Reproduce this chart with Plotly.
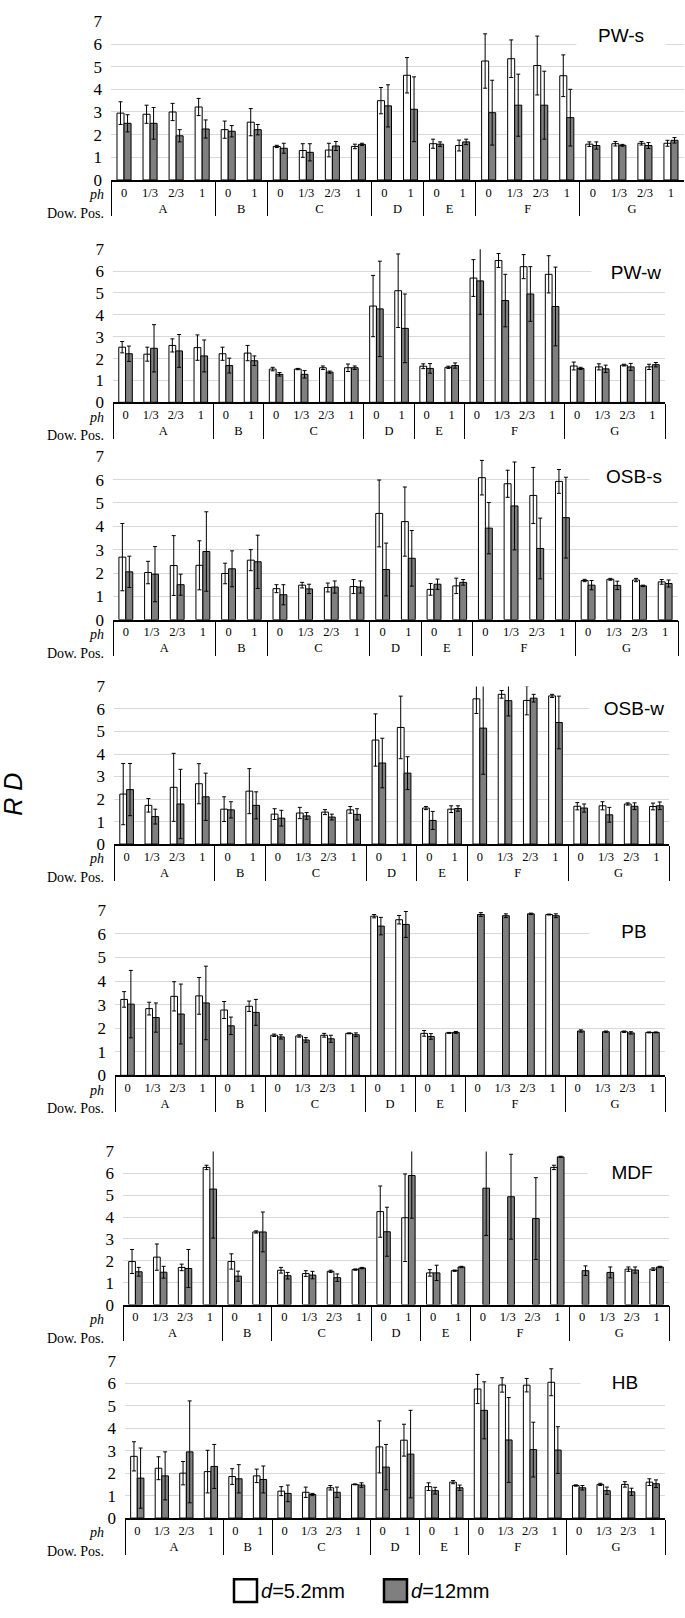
import plotly.graph_objects as go

# ---------------- data ----------------
dow_pos = ["A"] * 4 + ["B"] * 2 + ["C"] * 4 + ["D"] * 2 + ["E"] * 2 + ["F"] * 4 + ["G"] * 4
ph = ["0", "1/3", "2/3", "1", "0", "1", "0", "1/3", "2/3", "1", "0", "1", "0", "1",
      "0", "1/3", "2/3", "1", "0", "1/3", "2/3", "1"]

panel_names = ["PW-s", "PW-w", "OSB-s", "OSB-w", "PB", "MDF", "HB"]
series_names = ["d=5.2mm", "d=12mm"]

pws_52 = [2.95, 2.9, 3.0, 3.22, 2.22, 2.55, 1.48, 1.3, 1.32, 1.48, 3.5, 4.62, 1.6, 1.52, 5.25, 5.35, 5.05, 4.6, 1.58, 1.6, 1.62, 1.62]
pws_52_sd = [0.5, 0.4, 0.38, 0.38, 0.38, 0.6, 0.05, 0.3, 0.3, 0.1, 0.58, 0.78, 0.2, 0.24, 1.2, 0.83, 1.3, 0.92, 0.1, 0.1, 0.08, 0.13]
pws_12 = [2.5, 2.5, 1.95, 2.25, 2.15, 2.22, 1.4, 1.22, 1.5, 1.57, 3.27, 3.12, 1.58, 1.68, 2.97, 3.3, 3.3, 2.75, 1.52, 1.53, 1.52, 1.75]
pws_12_sd = [0.38, 0.7, 0.27, 0.4, 0.25, 0.23, 0.22, 0.38, 0.2, 0.05, 0.93, 1.43, 0.1, 0.12, 1.43, 1.37, 1.5, 1.25, 0.16, 0.04, 0.13, 0.12]

pww_52 = [2.52, 2.2, 2.6, 2.5, 2.22, 2.25, 1.52, 1.52, 1.58, 1.58, 4.4, 5.1, 1.65, 1.6, 5.68, 6.48, 6.2, 5.85, 1.66, 1.62, 1.7, 1.62]
pww_52_sd = [0.26, 0.32, 0.3, 0.58, 0.3, 0.35, 0.08, 0.03, 0.08, 0.17, 1.4, 1.68, 0.11, 0.05, 0.84, 0.32, 0.55, 0.85, 0.18, 0.14, 0.04, 0.12]
pww_12 = [2.22, 2.47, 2.35, 2.12, 1.68, 1.9, 1.28, 1.28, 1.38, 1.58, 4.27, 3.38, 1.55, 1.68, 5.55, 4.65, 4.95, 4.38, 1.55, 1.53, 1.62, 1.72]
pww_12_sd = [0.35, 1.08, 0.75, 0.73, 0.34, 0.22, 0.08, 0.17, 0.05, 0.08, 2.18, 1.57, 0.22, 0.12, 1.53, 1.2, 1.25, 1.8, 0.05, 0.17, 0.16, 0.1]

osbs_52 = [2.68, 2.02, 2.32, 2.33, 1.98, 2.55, 1.33, 1.48, 1.38, 1.42, 4.55, 4.2, 1.3, 1.45, 6.08, 5.82, 5.32, 5.92, 1.68, 1.73, 1.7, 1.62]
osbs_52_sd = [1.44, 0.48, 1.28, 1.05, 0.44, 0.45, 0.17, 0.12, 0.19, 0.3, 1.43, 1.48, 0.25, 0.33, 0.74, 0.58, 1.2, 0.51, 0.05, 0.04, 0.07, 0.1]
osbs_12 = [2.05, 1.95, 1.5, 2.92, 2.18, 2.48, 1.07, 1.32, 1.4, 1.4, 2.15, 2.63, 1.52, 1.6, 3.92, 4.87, 3.05, 4.37, 1.48, 1.47, 1.45, 1.55]
osbs_12_sd = [0.67, 1.18, 0.45, 1.7, 0.77, 1.14, 0.43, 0.2, 0.26, 0.26, 1.13, 1.19, 0.22, 0.12, 1.1, 1.88, 1.3, 1.73, 0.2, 0.18, 0.03, 0.15]

osbw_52 = [2.22, 1.72, 2.52, 2.68, 1.55, 2.35, 1.33, 1.38, 1.42, 1.52, 4.62, 5.18, 1.6, 1.55, 6.45, 6.65, 6.38, 6.58, 1.68, 1.7, 1.78, 1.67]
osbw_52_sd = [1.36, 0.3, 1.51, 0.89, 0.55, 1.0, 0.24, 0.25, 0.11, 0.15, 1.16, 1.39, 0.07, 0.15, 0.65, 0.17, 0.64, 0.07, 0.16, 0.18, 0.05, 0.15]
osbw_12 = [2.42, 1.22, 1.78, 2.1, 1.52, 1.72, 1.15, 1.25, 1.2, 1.32, 3.6, 3.15, 1.05, 1.58, 5.15, 6.37, 6.48, 5.4, 1.6, 1.3, 1.68, 1.7]
osbw_12_sd = [1.16, 0.33, 1.54, 1.05, 0.36, 0.6, 0.35, 0.15, 0.13, 0.25, 1.1, 0.73, 0.4, 0.12, 2.05, 0.68, 0.17, 1.17, 0.18, 0.33, 0.15, 0.17]

pb_52 = [3.22, 2.83, 3.35, 3.37, 2.77, 2.93, 1.7, 1.67, 1.7, 1.78, 6.75, 6.6, 1.78, 1.8, None, None, None, 6.82, None, None, 1.85, 1.82]
pb_52_sd = [0.33, 0.27, 0.62, 0.78, 0.36, 0.22, 0.05, 0.05, 0.08, 0.02, 0.07, 0.18, 0.12, 0.02, None, None, None, 0.02, None, None, 0.03, 0.02]
pb_12 = [3.02, 2.45, 2.6, 3.07, 2.1, 2.67, 1.63, 1.5, 1.55, 1.72, 6.33, 6.4, 1.65, 1.82, 6.82, 6.77, 6.85, 6.77, 1.88, 1.85, 1.8, 1.82]
pb_12_sd = [1.43, 0.62, 1.27, 1.56, 0.37, 0.55, 0.09, 0.1, 0.15, 0.08, 0.37, 0.55, 0.12, 0.04, 0.08, 0.08, 0.03, 0.08, 0.05, 0.03, 0.05, 0.02]

mdf_52 = [1.97, 2.17, 1.7, 6.27, 1.97, 3.32, 1.57, 1.42, 1.52, 1.6, 4.25, 3.97, 1.45, 1.55, None, None, None, 6.27, None, None, 1.62, 1.62]
mdf_52_sd = [0.55, 0.6, 0.15, 0.1, 0.35, 0.05, 0.13, 0.13, 0.05, 0.03, 1.17, 2.0, 0.15, 0.03, None, None, None, 0.1, None, None, 0.1, 0.06]
mdf_12 = [1.5, 1.48, 1.65, 5.28, 1.3, 3.32, 1.32, 1.35, 1.23, 1.67, 3.33, 5.9, 1.45, 1.72, 5.32, 4.93, 3.93, 6.75, 1.55, 1.47, 1.58, 1.72]
mdf_12_sd = [0.2, 0.27, 0.87, 2.24, 0.23, 0.91, 0.15, 0.17, 0.17, 0.03, 1.12, 1.95, 0.35, 0.03, 2.16, 1.94, 1.87, 0.03, 0.22, 0.25, 0.14, 0.03]

hb_52 = [2.75, 2.22, 2.0, 2.07, 1.85, 1.88, 1.2, 1.15, 1.35, 1.5, 3.17, 3.47, 1.4, 1.6, 5.75, 5.93, 5.92, 6.05, 1.45, 1.5, 1.5, 1.6]
hb_52_sd = [0.65, 0.51, 0.52, 0.95, 0.35, 0.3, 0.2, 0.23, 0.1, 0.02, 1.16, 0.71, 0.17, 0.07, 0.65, 0.32, 0.3, 0.6, 0.03, 0.05, 0.12, 0.15]
hb_12 = [1.78, 1.88, 2.95, 2.3, 1.75, 1.72, 1.1, 1.05, 1.15, 1.47, 2.27, 2.85, 1.22, 1.35, 4.8, 3.48, 3.05, 3.03, 1.35, 1.22, 1.17, 1.53]
hb_12_sd = [1.34, 1.07, 2.27, 0.98, 0.63, 0.6, 0.37, 0.05, 0.23, 0.1, 1.01, 1.95, 0.15, 0.12, 1.27, 1.89, 1.22, 1.04, 0.1, 0.16, 0.16, 0.17]

panels_data = [
    (pws_52, pws_52_sd, pws_12, pws_12_sd),
    (pww_52, pww_52_sd, pww_12, pww_12_sd),
    (osbs_52, osbs_52_sd, osbs_12, osbs_12_sd),
    (osbw_52, osbw_52_sd, osbw_12, osbw_12_sd),
    (pb_52, pb_52_sd, pb_12, pb_12_sd),
    (mdf_52, mdf_52_sd, mdf_12, mdf_12_sd),
    (hb_52, hb_52_sd, hb_12, hb_12_sd),
]

# ---------------- layout geometry (pixels) ----------------
W, H = 685, 1618
# left, right, y-pixel of value 7, y-pixel of value 0
panel_box = [
    (111, 684, 12.5, 173),
    (113, 665, 243, 398),
    (113, 678, 452.5, 618),
    (114, 669, 685.5, 845),
    (115, 665, 912, 1079),
    (123, 669, 1156, 1311),
    (125, 665, 1368, 1527),
]
title_pos = [(621, 26.5), (636, 267), (634, 473), (634, 708), (634, 933), (632, 1177), (625, 1390)]

WHITE_FILL = "#ffffff"
GRAY_FILL = "#7f7f7f"
SERIF = "Liberation Serif"
SANS = "Liberation Sans"


def fx(px):
    return px / W


def fy(py):
    return 1 - py / H


fig = go.Figure()
layout = {}
annotations = []

for i, (name, data, box, tpos) in enumerate(zip(panel_names, panels_data, panel_box, title_pos), start=1):
    v52, s52, v12, s12 = data
    xa = "x" if i == 1 else f"x{i}"
    ya = "y" if i == 1 else f"y{i}"
    for vals, sds, fill, sname in ((v52, s52, WHITE_FILL, series_names[0]),
                                   (v12, s12, GRAY_FILL, series_names[1])):
        fig.add_trace(go.Bar(
            x=[dow_pos, ph], y=vals, name=sname, xaxis=xa, yaxis=ya,
            marker=dict(color=fill, line=dict(color="black", width=1)),
            error_y=dict(type="data", array=sds, visible=True, color="black",
                         thickness=1, width=2),
            cliponaxis=False, showlegend=False, offsetgroup=sname,
        ))
    left, right, y7, y0 = box
    layout["xaxis" if i == 1 else f"xaxis{i}"] = dict(
        type="multicategory", domain=[fx(left), fx(right)], anchor=ya,
        showline=True, linecolor="black", linewidth=1.5, showgrid=False,
        tickfont=dict(family=SERIF, size=12.5, color="black"),
        showdividers=True, dividercolor="black", dividerwidth=1,
        ticks="", fixedrange=True,
    )
    layout["yaxis" if i == 1 else f"yaxis{i}"] = dict(
        domain=[fy(y0), fy(y7)], anchor=xa, range=[0, 7], dtick=1,
        showgrid=True, gridcolor="#d9d9d9", gridwidth=1, zeroline=False,
        showline=False, tickfont=dict(family=SERIF, size=17, color="black"),
        ticklabelstandoff=8, fixedrange=True,
    )
    annotations.append(dict(
        text=name, x=fx(tpos[0]), y=fy(tpos[1]), xref="paper", yref="paper",
        showarrow=False, font=dict(family=SANS, size=19, color="black"),
        bgcolor="white", width=86, xanchor="center", yanchor="middle",
    ))
    annotations.append(dict(
        text="<i>ph</i>", x=fx(106), y=fy(y0 + 15), xref="paper", yref="paper",
        showarrow=False, font=dict(family=SERIF, size=14, color="black"),
        xanchor="right", yanchor="middle",
    ))
    annotations.append(dict(
        text="Dow. Pos.", x=fx(106), y=fy(y0 + 34), xref="paper", yref="paper",
        showarrow=False, font=dict(family=SERIF, size=14, color="black"),
        xanchor="right", yanchor="middle",
    ))

# y-axis title
annotations.append(dict(
    text="<i>R D</i>", x=fx(13), y=fy(795), xref="paper", yref="paper",
    showarrow=False, textangle=-90, font=dict(family=SANS, size=25, color="black"),
    xanchor="center", yanchor="middle",
))

# legend (custom, large swatches)
shapes = [
    dict(type="rect", xref="paper", yref="paper", x0=fx(234), x1=fx(257), y0=fy(1612), y1=fy(1589),
         fillcolor=WHITE_FILL, line=dict(color="black", width=2.5)),
    dict(type="rect", xref="paper", yref="paper", x0=fx(384), x1=fx(407), y0=fy(1612), y1=fy(1589),
         fillcolor=GRAY_FILL, line=dict(color="black", width=2.5)),
]
annotations.append(dict(
    text="<i>d</i>=5.2mm", x=fx(259), y=fy(1601), xref="paper", yref="paper",
    showarrow=False, font=dict(family=SANS, size=20, color="black"),
    xanchor="left", yanchor="middle",
))
annotations.append(dict(
    text="<i>d</i>=12mm", x=fx(409), y=fy(1601), xref="paper", yref="paper",
    showarrow=False, font=dict(family=SANS, size=20, color="black"),
    xanchor="left", yanchor="middle",
))

fig.update_layout(
    width=W, height=H, margin=dict(l=0, r=0, t=0, b=0),
    paper_bgcolor="white", plot_bgcolor="white",
    barmode="group", bargap=0.46, bargroupgap=0.0,
    annotations=annotations, shapes=shapes, showlegend=False,
    **layout,
)

fig.write_html("out.html", config={"displayModeBar": False},
               post_script="document.body.style.margin='0px';document.body.style.overflow='hidden';")
